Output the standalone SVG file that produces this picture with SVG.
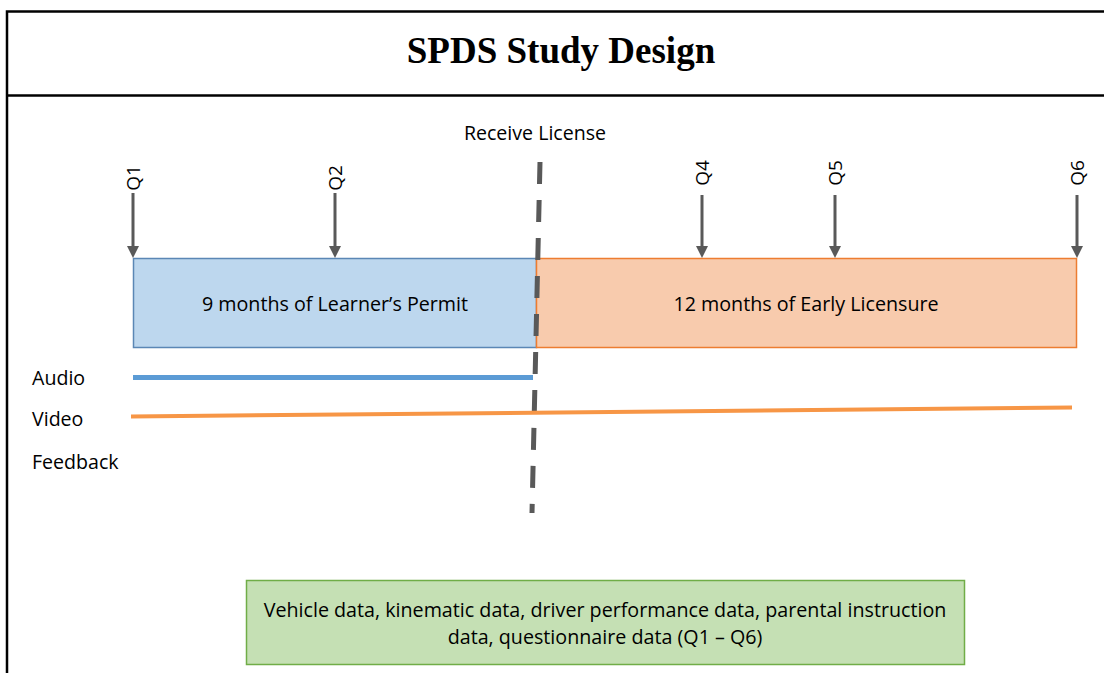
<svg xmlns="http://www.w3.org/2000/svg" width="1104" height="673" viewBox="0 0 1104 673">
<defs>
<style>
.t{font-family:"Open Sans","Liberation Sans",Arial,sans-serif;font-size:19.6px;fill:#000}
.b{font-family:"Open Sans","Liberation Sans",Arial,sans-serif;font-size:19.7px;fill:#000}
.g{font-family:"Open Sans","Liberation Sans",Arial,sans-serif;font-size:19.7px;fill:#000}
.q{font-family:"Open Sans","Liberation Sans",Arial,sans-serif;font-size:19px;fill:#000}
.ar{stroke:#595959;stroke-width:3}
.hd{fill:#595959}
</style>
</defs>
<rect width="1104" height="673" fill="#fff"/>
<g id="frame" stroke="#000" stroke-width="2.5" fill="none">
<path d="M1106,11.5 H7 V673"/>
<path d="M7,95.5 H1106"/>
</g>
<g id="title">
<text x="561" y="63" text-anchor="middle" font-family="'Liberation Serif','Times New Roman',serif" font-weight="bold" font-size="37">SPDS Study Design</text>
</g>
<g id="learner">
<rect x="133.5" y="258.5" width="403" height="89" fill="#BDD7EE" stroke="#5B87B5" stroke-width="1.5"/>
<text class="b" x="335" y="311" text-anchor="middle">9 months of Learner’s Permit</text>
</g>
<g id="early">
<rect x="536.5" y="258.5" width="540" height="89" fill="#F8CBAD" stroke="#ED7D31" stroke-width="1.5"/>
<text class="b" x="806" y="311" text-anchor="middle">12 months of Early Licensure</text>
</g>
<g id="labels">
<text class="t" x="535" y="140" text-anchor="middle">Receive License</text>
<text class="t" x="32" y="385">Audio</text>
<text class="t" x="32" y="426">Video</text>
<text class="t" x="32" y="469">Feedback</text>
<text class="q" transform="translate(140,178) rotate(-90)" text-anchor="middle">Q1</text>
<text class="q" transform="translate(342,178) rotate(-90)" text-anchor="middle">Q2</text>
<text class="q" transform="translate(709,173) rotate(-90)" text-anchor="middle">Q4</text>
<text class="q" transform="translate(842,173) rotate(-90)" text-anchor="middle">Q5</text>
<text class="q" transform="translate(1084,173) rotate(-90)" text-anchor="middle">Q6</text>
</g>
<g id="connectors">
<line class="ar" x1="133" y1="193" x2="133" y2="248"/>
<path class="hd" d="M127,246 L139,246 L133,258 Z"/>
<line class="ar" x1="335" y1="193" x2="335" y2="248"/>
<path class="hd" d="M329,246 L341,246 L335,258 Z"/>
<line class="ar" x1="702" y1="195" x2="702" y2="248"/>
<path class="hd" d="M696,246 L708,246 L702,258 Z"/>
<line class="ar" x1="835" y1="195" x2="835" y2="248"/>
<path class="hd" d="M829,246 L841,246 L835,258 Z"/>
<line class="ar" x1="1077" y1="195" x2="1077" y2="248"/>
<path class="hd" d="M1071,246 L1083,246 L1077,258 Z"/>
<line x1="540" y1="162" x2="532" y2="513" stroke="#595959" stroke-width="5" stroke-dasharray="22,16"/>
<line x1="133" y1="377.5" x2="533" y2="377.5" stroke="#5B9BD5" stroke-width="5"/>
<line x1="131" y1="416.5" x2="1072" y2="407.5" stroke="#F79646" stroke-width="4"/>
</g>
<g id="data">
<rect x="246.5" y="580.5" width="718" height="84" fill="#C5E0B4" stroke="#70AD47" stroke-width="1.5"/>
<text class="g" x="605" y="617" text-anchor="middle">Vehicle data, kinematic data, driver performance data, parental instruction</text>
<text class="g" x="605" y="644" text-anchor="middle">data, questionnaire data (Q1 – Q6)</text>
</g>
</svg>
